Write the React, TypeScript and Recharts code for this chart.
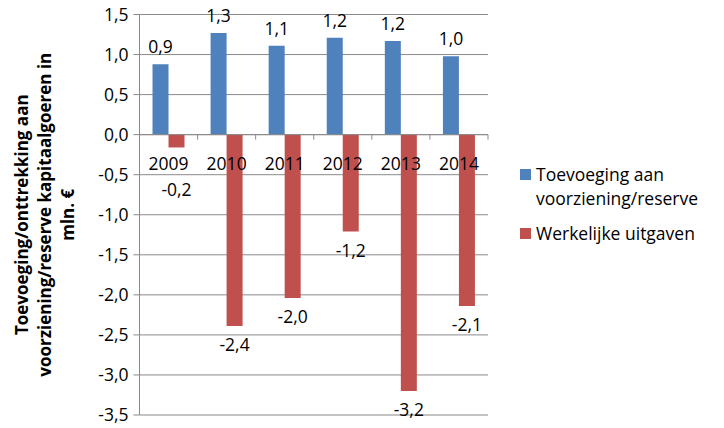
import { BarChart, Bar, XAxis, YAxis, CartesianGrid, ReferenceLine, LabelList } from 'recharts';

const years = ['2009', '2010', '2011', '2012', '2013', '2014'];
const toevoeging = [0.88, 1.27, 1.11, 1.21, 1.17, 0.98];
const uitgaven = [-0.16, -2.39, -2.04, -1.21, -3.2, -2.14];
const yTicks = [1.5, 1.0, 0.5, 0.0, -0.5, -1.0, -1.5, -2.0, -2.5, -3.0, -3.5];
const seriesNames = ['Toevoeging aan voorziening/reserve', 'Werkelijke uitgaven'];
const seriesColors = ['#4f81bd', '#c0504d'];
const titleLines = ['Toevoeging/onttrekking aan', 'voorziening/reserve kapitaalgoeren in', 'mln. €'];

const data = years.map((year, i) => ({ year, toevoeging: toevoeging[i], uitgaven: uitgaven[i] }));

const W = 724;
const H = 428;
const M = { top: 14.5, right: 236, bottom: 12, left: 0 };
const Y_AXIS_W = 139.5;
const plotTop = M.top;
const plotBottom = H - M.bottom - 1;
const plotLeft = M.left + Y_AXIS_W;
const plotRight = W - M.right;
const yMax = yTicks[0];
const yMin = yTicks[yTicks.length - 1];
const zeroY = plotTop + ((plotBottom - plotTop) * yMax) / (yMax - yMin);
const band = (plotRight - plotLeft) / years.length;

const FONT = '"Open Sans", sans-serif';
const FS = 17.5;
const GRID = '#8a8a8a';
const fmt = (v: number) => v.toFixed(1).replace('.', ',');

function YearTick(props: any) {
  const { x, payload } = props;
  return (
    <g>
      <line x1={x + band / 2} y1={zeroY} x2={x + band / 2} y2={zeroY + 5} stroke={GRID} />
      <text x={x} y={zeroY + 28} textAnchor="middle" dominantBaseline="central" fontSize={FS} fill="#000" fontFamily={FONT}>
        {payload.value}
      </text>
    </g>
  );
}

function PosLabel(props: any) {
  const { x, y, width, height, value } = props;
  const top = Math.min(y, y + height);
  return (
    <text x={x + width / 2} y={top - 18} textAnchor="middle" dominantBaseline="central" fontSize={FS} fill="#000" fontFamily={FONT}>
      {fmt(value)}
    </text>
  );
}

function NegLabel(props: any) {
  const { x, y, width, height, value } = props;
  const bottom = Math.max(y, y + height);
  let cy = bottom + 18;
  // keep clear of the year labels on the zero line
  if (cy < zeroY + 45) cy = zeroY + 54;
  return (
    <text x={x + width / 2} y={cy} textAnchor="middle" dominantBaseline="central" fontSize={FS} fill="#000" fontFamily={FONT}>
      {fmt(value)}
    </text>
  );
}

function AxisTitle() {
  const cy = (plotTop + plotBottom) / 2;
  const xs = [21, 44, 67];
  return (
    <g>
      {titleLines.map((line, i) => (
        <text
          key={i}
          x={xs[i]}
          y={cy}
          transform={`rotate(-90 ${xs[i]} ${cy})`}
          textAnchor="middle"
          dominantBaseline="central"
          fontSize={17}
          fontWeight={700}
          fill="#000"
          fontFamily={FONT}
        >
          {line}
        </text>
      ))}
    </g>
  );
}

export default function App() {
  return (
    <div style={{ position: 'absolute', left: 0, top: 0, width: W, height: H, fontFamily: FONT }}>
      <BarChart width={W} height={H} data={data} margin={M} barGap={0} barSize={16}>
        <CartesianGrid vertical={false} stroke={GRID} />
        <XAxis dataKey="year" axisLine={false} tickLine={false} height={1} tick={<YearTick />} interval={0} />
        <YAxis
          type="number"
          domain={[yMin, yMax]}
          ticks={yTicks}
          interval={0}
          width={Y_AXIS_W}
          tickFormatter={fmt}
          axisLine={{ stroke: GRID }}
          tickLine={{ stroke: GRID }}
          tickSize={6}
          tickMargin={5}
          tick={{ fontSize: FS, fill: '#000', fontFamily: FONT }}
          label={{ content: () => <AxisTitle /> }}
        />
        <ReferenceLine y={0} stroke={GRID} />
        <Bar dataKey="toevoeging" fill={seriesColors[0]} isAnimationActive={false}>
          <LabelList dataKey="toevoeging" content={<PosLabel />} />
        </Bar>
        <Bar dataKey="uitgaven" fill={seriesColors[1]} isAnimationActive={false}>
          <LabelList dataKey="uitgaven" content={<NegLabel />} />
        </Bar>
      </BarChart>
      <div style={{ position: 'absolute', left: 520, top: 162, width: 204, fontSize: FS, color: '#000' }}>
        {seriesNames.map((name, i) => (
          <div key={name} style={{ display: 'flex', alignItems: 'flex-start', marginBottom: 11 }}>
            <span style={{ width: 11, height: 11, background: seriesColors[i], flex: 'none', marginTop: 7, marginRight: 5 }} />
            <span style={{ lineHeight: '24px', width: 190 }}>{name}</span>
          </div>
        ))}
      </div>
    </div>
  );
}
